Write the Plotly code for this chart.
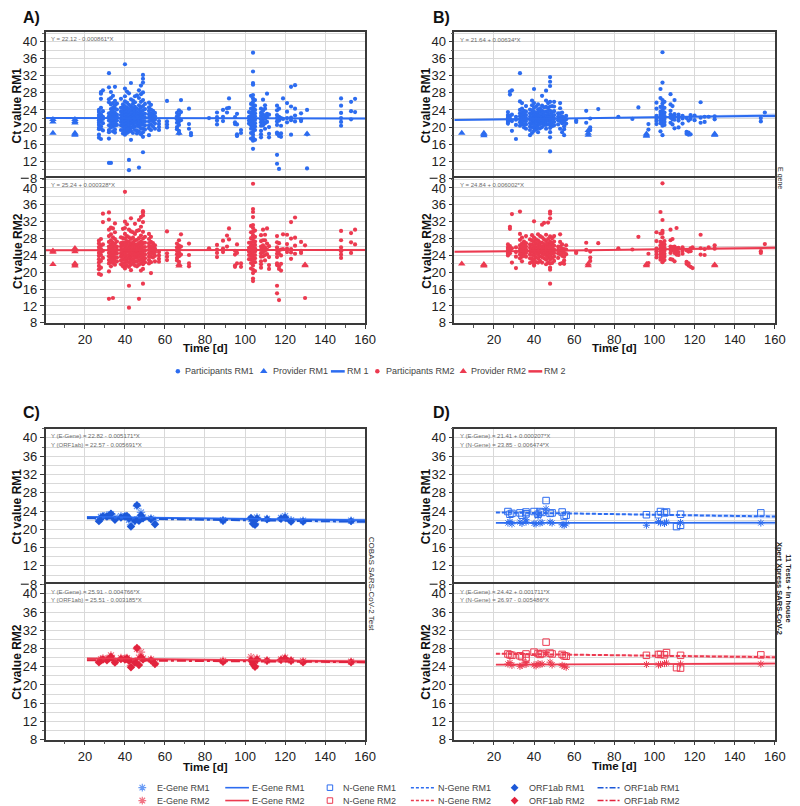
import numpy as np
import plotly.graph_objects as go

W, H = 800, 806
BLUE = "#2c6cf0"
BLUE_L = "#6a9cf6"
BLUE_D = "#1c58d8"
RED = "#ec3a50"
RED_L = "#f27585"
RED_D = "#e2233d"
FONT = "Liberation Sans, Arial, sans-serif"

# ------------------------------------------------------------------ data
# Panel A (E gene, all participants) : (day, [Ct values])
A_RM1_PART = [
    (27, [21.5, 22, 22.8, 23.5, 20.5, 19.8, 19.5, 24, 22.3, 21, 18.2, 17.5]),
    (28, [26.6, 27.8, 28.2, 23, 22, 21.4, 20.2, 19.6, 24.5, 22.6, 17.2]),
    (29, [28.6, 23.7, 22.4, 21.9, 20.9, 19.2]),
    (32, [32.6, 29.3, 26.5, 25.8, 23.2, 22.5, 21.5, 20.4, 19.3, 18.8, 17.3, 11.6]),
    (33, [28.2, 26.8, 25.3, 24.2, 23.4, 22.7, 22.1, 21.3, 20.6, 19.9, 11.6]),
    (34, [27.3, 25.6, 24.5, 23.7, 22.9, 22.2, 21.6, 20.8, 20.1, 19]),
    (35, [29.4, 26.1, 25.1, 24.3, 23.3, 22.6, 21.8, 21.1, 20.3, 19.4, 18.7]),
    (36, [25.5, 24.1, 22.9, 22.3, 21.5, 20.5]),
    (38, [26.6, 24.5, 23.6, 22.8, 22, 21.2, 20.4, 19.3]),
    (39, [25.3, 24.6, 23.8, 23.1, 22.4, 21.6, 20.9, 20.1, 19.3, 18.5]),
    (40, [34.7, 29, 27.2, 26, 24.9, 24.1, 23.4, 22.7, 22, 21.3, 20.6, 19.8, 19, 18.2]),
    (41, [28.3, 25.7, 24.5, 23.7, 23, 22.3, 21.6, 20.9, 20.2, 19.4, 18.6]),
    (42, [27.9, 25.2, 24.2, 23.3, 22.6, 21.9, 21.2, 20.5, 19.7, 18.9, 12.3, 9.9]),
    (43, [30.3, 26.5, 24.8, 23.9, 23, 22.3, 21.5, 20.8, 20, 19.1, 17]),
    (44, [26.2, 25.4, 24.4, 23.5, 22.8, 22.1, 21.4, 20.7, 19.9, 18.6]),
    (45, [27.2, 25.8, 24.7, 23.8, 23.1, 22.4, 21.7, 21, 20.2, 19.3]),
    (46, [27.4, 24.3, 23.4, 22.6, 21.8, 21.1, 20.3, 19.2, 18.5]),
    (47, [28.6, 26.8, 25.1, 24, 23.2, 22.5, 21.7, 20.9, 20.1, 18.9, 10.5]),
    (48, [29.7, 27.7, 25.9, 24.6, 23.6, 22.8, 22.1, 21.3, 20.5, 19.6, 18.3]),
    (49, [32.2, 31.3, 30.4, 28.1, 26.3, 24.9, 23.9, 23, 22.2, 21.4, 20.6, 19.7, 18.8, 17.7, 14.1]),
    (50, [25.4, 24.2, 23.1, 22.2, 21.3, 20.4, 19.4]),
    (52, [25.7, 24.6, 23.8, 23, 22.2, 21.3, 20.4, 19.7, 18.1]),
    (53, [25.2, 24.1, 23.2, 22.4, 21.6, 20.6, 19.3]),
    (54, [23.8, 22.9, 22.1, 21.3, 20.1]),
    (55, [23.3, 22.5, 21.7, 20.8, 19.6]),
    (57, [21.4, 20.7, 20, 19.3]),
    (61, [26.1, 21.3, 20.6, 19.9]),
    (66, [23.3, 22.5, 21.8, 21, 20, 19.5]),
    (67, [23.9, 22.9, 22.1, 21.3, 20.5, 19.1, 18.5]),
    (68, [26.3, 23.5, 21.6]),
    (72, [24.3, 20.7, 19.6]),
    (73, [18.6, 18.1]),
    (82, [22.1]),
    (86, [23.4, 22.3, 21.5, 20.6]),
    (89, [24, 22.4, 21.4]),
    (91, [24.4, 23.4]),
    (92, [26.7, 24.5]),
    (95, [22.3, 21.1, 20.7]),
    (96, [23.1, 20.6, 18.3, 18, 17.9]),
    (98, [19.3, 18.6]),
    (102, [23.5, 22.4, 21.5, 20.8]),
    (103, [27.3, 25.4, 24.3, 23.3, 22.6, 21.9, 21.2, 20.4, 19.6, 18.6, 17.3]),
    (104, [37.4, 33, 30.3, 29.9, 27.5, 26.7, 25.9, 25.2, 24.5, 23.8, 23.1, 22.4, 21.7, 21, 20.3, 19.6, 18.9, 18.2, 17.5, 16.8, 14.9]),
    (105, [26.3, 25, 24, 23.2, 22.5, 21.7, 20.9, 20.1, 19.3, 17]),
    (108, [24.3, 23.3, 22.6, 21.8, 21.1, 20.3, 19.1, 18.3, 17.6]),
    (109, [26.4, 23.8, 22.9, 22.1, 21.2, 20.4]),
    (110, [25.1, 24.3, 22.7, 21.9, 20.9, 19.6]),
    (111, [27.8, 23.1, 22.3, 21.2]),
    (112, [22.9, 20, 18.4, 17.6]),
    (116, [25, 23.9, 22.8, 22.1, 21.3, 20.5, 18.7, 18.4, 13.5, 11.4]),
    (117, [24.3, 22.4, 21.5, 18.3, 17.9, 10.2]),
    (118, [22.1, 20.3, 18.5, 17.7]),
    (119, [26.7, 21.9]),
    (121, [25.6, 23.6, 22.1, 21.1]),
    (123, [29.4, 24.8, 22.2, 21.6, 18.2]),
    (125, [29.8, 24.3, 22.7, 21.3]),
    (128, [23.2, 21.8, 21.4]),
    (131, [24, 18.3, 10.3]),
    (148, [26.7, 25, 23.3, 22.1, 21.2, 20.3]),
    (153, [25.9, 23.7, 21.8]),
    (155, [26.6, 23.5]),
]
A_RM1_PROV = [(4, [21.8, 21.2, 18.6]), (15, [21.8, 21.3, 21.0, 18.6, 18.3, 18.1]),
              (67, [18.6]), (131, [18.4])]

A_RM2_PART = [
    (27, [27.5, 26.8, 26, 25.3, 24.6, 23.9, 23.1, 22.3, 21.5, 20.7, 19.6]),
    (28, [27.9, 26.3, 25.5, 24.8, 24.1, 22.7, 21.1, 19.4]),
    (29, [33.9, 31.9, 26.6, 25.1, 23.4]),
    (32, [34.2, 32.5, 30.1, 28.6, 27.2, 26.1, 25.4, 24.6, 23.8, 22.9, 22.1, 20.2, 13.7]),
    (33, [30.6, 29, 27.6, 26.6, 25.8, 25, 24.2, 23.4, 22.5, 21.4]),
    (34, [30.4, 28.3, 27, 26.2, 25.5, 24.7, 23.9, 23.1, 22.2, 13.9]),
    (35, [31.6, 29.5, 27.9, 26.8, 26, 25.2, 24.4, 23.6, 22.7, 21.8]),
    (36, [27.3, 26.1, 25.3, 24.5, 23.5, 22.6]),
    (38, [28.3, 26.9, 26.1, 25.3, 24.5, 23.7, 22.8, 21.9]),
    (39, [30.3, 28.1, 27.1, 26.3, 25.5, 24.7, 23.9, 23.1, 22.2, 21.4]),
    (40, [39.1, 32, 30.5, 29.1, 28, 27, 26.2, 25.4, 24.6, 23.8, 23, 22.2, 21.4, 20.9]),
    (41, [31.4, 28.6, 27.4, 26.5, 25.7, 24.9, 24.1, 23.3, 22.5, 21.6]),
    (42, [30.1, 28.3, 27.2, 26.4, 25.6, 24.8, 24, 23.2, 22.3, 21.3, 16.8, 11.6]),
    (43, [32.8, 29.7, 27.9, 26.8, 26, 25.2, 24.4, 23.6, 22.7, 21.8, 20.5]),
    (44, [29.5, 28.2, 27.1, 26.3, 25.5, 24.7, 23.9, 23, 22.1]),
    (45, [31.5, 29.1, 27.6, 26.6, 25.8, 25, 24.2, 23.4, 22.5, 21.6]),
    (46, [29.8, 27.7, 26.6, 25.8, 25, 24.2, 23.4, 22.5, 21.4]),
    (47, [32.4, 30, 28.1, 26.9, 26.1, 25.3, 24.5, 23.7, 22.8, 21.8, 13.7]),
    (48, [33.1, 30.8, 28.7, 27.3, 26.4, 25.6, 24.8, 24, 23.1, 22.2, 20.4]),
    (49, [34.5, 34.2, 33.5, 31.9, 29.6, 28, 26.9, 26, 25.2, 24.4, 23.6, 22.7, 21.9, 20.8, 17.3]),
    (50, [28.4, 27, 26, 25.1, 24.2, 23.3, 22.4]),
    (52, [29.1, 27.9, 26.9, 26.1, 25.3, 24.5, 23.7, 22.9, 22.1]),
    (53, [28.4, 27.2, 26.2, 25.4, 24.6, 23.7, 22.4, 19.8]),
    (54, [26.9, 26, 25.2, 24.4, 23.5]),
    (55, [26.4, 25.6, 24.8, 23.9, 22.6]),
    (57, [24.8, 24, 23.2, 22.5]),
    (61, [29.7, 24.5, 23.7, 22.9]),
    (66, [26.8, 25.9, 25.1, 24.3, 23.4, 22.8]),
    (67, [27.6, 26.3, 25.5, 24.7, 23.8, 22.5]),
    (68, [29, 26.1, 24.2]),
    (72, [26.8, 24.1, 22.1, 21.4]),
    (82, [25.7]),
    (86, [26.5, 25.4, 24.6, 23.6]),
    (89, [27.5, 25.6, 24.8]),
    (91, [28.7, 26.1]),
    (92, [30.4, 27.8]),
    (95, [25.1, 24.2, 21.6, 21.3]),
    (96, [26.6, 24.6, 22.1]),
    (98, [22.1, 21.3]),
    (102, [27, 25.8, 24.9, 24.1, 23.1]),
    (103, [31, 29.5, 28.1, 27.1, 26.3, 25.5, 24.7, 23.9, 23.1, 22.2, 20.9]),
    (104, [41, 35, 34.3, 33.1, 31.2, 30.5, 29.6, 28.8, 28, 27.2, 26.4, 25.6, 24.8, 24, 23.2, 22.4, 21.6, 20.6, 19.8, 18.5, 17.9]),
    (105, [29.9, 28.4, 27.3, 26.5, 25.7, 24.9, 24.1, 23.3, 22.4, 20.3]),
    (108, [28.8, 27.4, 26.1, 25.3, 24.5, 23.7, 22.6, 21.9, 21.1]),
    (109, [30.1, 27.6, 26.4, 25.6, 24.8, 23.8]),
    (110, [28.9, 27.6, 25.9, 25.1, 24.1, 22.8]),
    (111, [30.4, 26.8, 25.4, 24.3]),
    (112, [26.2, 23.6, 21.7, 20.8]),
    (116, [28.6, 27.1, 25.9, 25.2, 24.4, 23.6, 22.1, 21.7, 16.8, 15]),
    (117, [26.9, 25.2, 24.4, 21.4, 20.8, 13.4]),
    (118, [25.4, 24, 22, 20.4]),
    (119, [29, 25.5]),
    (121, [28.9, 26.7, 25.6, 24.8]),
    (123, [31.9, 28, 25.5, 24.7, 23.2]),
    (125, [33, 28.2, 26.3, 24.4]),
    (128, [27.2, 25.1, 24.6]),
    (130, [26.4, 13.9]),
    (148, [29.8, 27.6, 25.9, 25, 24.2, 23.4]),
    (153, [29.3, 27.1, 24.6]),
    (155, [30.1, 26.6]),
]
A_RM2_PROV = [(4, [25.1, 24.8, 21.9]), (15, [25.7, 25.3, 24.9, 22.1, 21.8, 21.5]),
              (67, [21.5, 21.9]), (130, [21.6, 21.8])]

# Panel B (E gene, selected participants)
B_RM1_PART = [
    (27, [23.5, 22.8, 22.3, 21.9, 21.5, 21.2, 20.8]),
    (28, [27.6, 28.3, 22.6, 22, 21.6]),
    (29, [28.6, 22.9, 21.4, 19.1]),
    (31, [22.4, 21.7, 20.5, 17.2]),
    (33, [32.6, 26, 24, 23.2, 22.5, 21.8, 21.1, 20.3]),
    (34, [25.6, 24.3, 23.4, 22.7, 22, 21.3, 20.6]),
    (35, [23.8, 23, 22.2, 21.5, 20.7, 19.9]),
    (36, [24.9, 23.6, 22.8, 22.1, 21.4, 20.6, 19.6]),
    (38, [24.1, 23.2, 22.4, 21.7, 20.9, 20.1, 19.3, 18.1]),
    (39, [26.2, 25.1, 23.9, 23.1, 22.3, 21.6, 20.8, 20, 18.6]),
    (40, [28.9, 25.6, 24.5, 23.6, 22.8, 22.1, 21.4, 20.7, 19.9, 19.1]),
    (41, [24.8, 23.3, 22.6, 21.9, 21.2, 20.4, 19.5]),
    (42, [25.3, 24.1, 23.4, 22.7, 22, 21.3, 20.6, 19.8, 18.8]),
    (43, [24.4, 23.6, 22.8, 22.1, 21.4, 20.7, 19.7]),
    (44, [27.3, 25, 23.8, 23, 22.3, 21.6, 20.9, 20]),
    (45, [24.6, 23.5, 22.7, 22, 21.3, 20.5]),
    (46, [28.5, 26.2, 24.7, 23.6, 22.8, 22.1, 21.4, 20.5, 19.6]),
    (47, [25.6, 24.5, 23.7, 22.9, 22.2, 21.5, 20.7]),
    (48, [31.7, 30.6, 29.6, 25.9, 24.8, 23.8, 23, 22.2, 21.4, 20.6, 19.8, 18.8, 17.6, 14.3]),
    (49, [24.9, 23.5, 22.7, 21.9, 21.1, 20.2]),
    (50, [25.9, 24.8, 23.7, 22.8, 22, 21.2, 20.4]),
    (52, [23.2, 22.4, 21.6, 20.6]),
    (53, [25.6, 24.4, 23.2, 22.3, 21.4, 19.6]),
    (54, [23.4, 22.5, 21.7, 20.9, 18.8]),
    (55, [22.2, 21.4, 20.2, 19.5, 18.1]),
    (56, [22.6, 21.8, 20.8]),
    (61, [21.5, 21.2]),
    (66, [23.8, 21]),
    (68, [22, 19.9, 19.3]),
    (72, [24.2]),
    (82, [22.4]),
    (89, [21.9]),
    (92, [24.6]),
    (97, [20.7, 19.4]),
    (101, [25.7, 24.3, 22.6, 22, 21.4, 20.7]),
    (103, [28.9, 26.8, 24.7, 23.6, 22.9, 22.3, 21.6, 20.9, 19]),
    (104, [37.5, 30.4, 26.3, 25.5, 24.7, 23.9, 23.2, 22.5, 21.8, 21.1, 20.3, 18.1]),
    (105, [25.9, 24.5, 23.4, 22.6, 21.9, 21.2, 20.5]),
    (108, [27.7, 25.3, 23.8, 22.9, 22.2, 21]),
    (109, [24.9, 22.7, 21.8, 20.6]),
    (110, [26.3, 23, 22.5, 21.7, 19.7]),
    (112, [22.9, 22.2, 21.5, 19.9]),
    (114, [22.6, 22, 20.8]),
    (116, [22.1, 18.9, 18.4]),
    (117, [21.5, 18.7, 18.2]),
    (118, [22.8, 21.9, 18.3]),
    (120, [22.7, 21.6]),
    (123, [25.8, 22.2, 21]),
    (125, [22.4, 21.2]),
    (127, [22.4]),
    (130, [22.5, 21.8]),
    (153, [22.1, 21.3]),
    (155, [23.4]),
]
B_RM1_PROV = [(4, [18.6]), (15, [18.6, 18.3, 18.0]), (67, [18.1, 18.6, 19.2]),
              (96, [18.4, 18.1, 17.9]), (130, [18.4, 18.2, 18.1])]

B_RM2_PART = [
    (27, [26.6, 25.9, 25.5, 25.1, 24.8, 24.4, 24]),
    (28, [30.8, 30.3, 26.2, 25.2, 24.5]),
    (29, [33.8, 25.7, 22.3]),
    (31, [25.9, 24.8, 23.7, 21]),
    (33, [34.4, 29.1, 27.7, 26.4, 25.6, 24.9, 24.2, 23.3]),
    (34, [28.2, 26.8, 25.9, 25.2, 24.5, 23.7, 22.6]),
    (35, [27.3, 26.3, 25.5, 24.7, 23.9]),
    (36, [28.6, 26.9, 26.1, 25.4, 24.6, 23.7]),
    (38, [27.8, 26.6, 25.8, 25, 24.2, 23.3, 22.2]),
    (39, [28.8, 27.5, 26.5, 25.7, 24.9, 24.1, 23.2, 22.5]),
    (40, [32.1, 28.2, 27.2, 26.3, 25.5, 24.7, 23.9, 23, 22.1, 21.6]),
    (41, [27.8, 26.9, 26, 25.2, 24.4, 23.5, 22.4]),
    (42, [29, 27.5, 26.6, 25.8, 25, 24.2, 23.3, 22.3]),
    (43, [28.6, 27.1, 26.3, 25.5, 24.7, 23.8, 22.7]),
    (44, [31.3, 28.3, 27, 26.1, 25.3, 24.5, 23.6, 22.3]),
    (45, [31.7, 27.8, 26.7, 25.9, 25.1, 24.3, 23.3]),
    (46, [28.9, 27.4, 26.4, 25.6, 24.8, 24, 23, 21.9]),
    (47, [31.8, 27.9, 26.8, 26, 25.2, 24.4, 23.5, 22.3]),
    (48, [34.4, 33.9, 32.8, 28.5, 27.3, 26.3, 25.5, 24.7, 23.9, 23, 22.1, 21.1, 20.6, 17.3]),
    (49, [28.1, 26.9, 26, 25.2, 24.4, 23.4, 22.2]),
    (50, [28.6, 27.3, 26.3, 25.4, 24.6, 23.7, 22.7]),
    (52, [26.1, 25.3, 24.5, 23.4]),
    (53, [29, 27.2, 26.1, 25.2, 24.3, 22]),
    (54, [26.6, 25.6, 24.8, 23.9, 22.2]),
    (55, [25.5, 24.6, 23.7, 22.8, 22]),
    (56, [26.4, 25.4, 24.3]),
    (61, [24.6, 24.8]),
    (66, [27, 25.3]),
    (68, [24.9, 23.5, 22.7]),
    (72, [26.9]),
    (82, [25.7]),
    (89, [25.4]),
    (92, [28.4]),
    (97, [24.4, 22.2]),
    (101, [29.5, 27.4, 25.6, 24.9, 24.2, 23.5]),
    (103, [34.3, 29.2, 27.2, 26.4, 25.7, 25, 24.3, 23.6, 23]),
    (104, [41.1, 32.4, 29.8, 29.3, 28.3, 26.9, 26.1, 25.4, 24.7, 24, 23.3, 22.4]),
    (105, [27.4, 26.6, 25.8, 25.1, 24.4, 23.7, 22.9]),
    (108, [30.1, 27.6, 26.1, 25.4, 24.6, 23.1]),
    (109, [27.9, 26, 25.2, 23]),
    (110, [26.1, 25.3, 24.6, 22.6]),
    (111, [30.5, 25.7, 25, 24.2]),
    (112, [25.8, 24.8, 24.1]),
    (114, [25.9, 25.1, 24.4]),
    (116, [25.2, 22.5, 22]),
    (117, [24.9, 22.1, 21.6]),
    (118, [25.7, 25, 21.3]),
    (119, [25.9, 21]),
    (123, [28.9, 25.7, 24.2]),
    (125, [25.5, 24.1]),
    (127, [25.9]),
    (130, [26.4, 25.6]),
    (153, [25, 24.6]),
    (155, [26.7]),
]
B_RM2_PROV = [(4, [22.0]), (15, [21.9, 21.7, 21.5]), (67, [21.6, 22.0]),
              (96, [21.6, 21.9]), (130, [21.8, 21.6])]

# Panel C (COBAS): E-Gene and ORF1ab
C_X = [27, 28, 29, 31, 33, 35, 38, 40, 41, 42, 43, 45, 46, 47, 48, 49, 53, 55,
       89, 103, 104, 105, 106, 111, 118, 120, 123, 129, 153]
C_E_RM1 = [22.2, 22.7, 22.9, 23.1, 23.3, 22.6, 22.9, 22.9, 22.7, 22.1, 21.0, 22.0, 25.1, 22.3,
           23.7, 22.6, 22.4, 21.9, 22.0, 22.3, 21.7, 21.3, 22.6, 22.3, 22.5, 22.9, 22.0, 21.9, 21.9]
C_O_RM1 = [21.8, 22.5, 22.8, 22.8, 23.4, 22.1, 22.6, 22.8, 22.9, 22.4, 20.6, 21.9, 25.3, 21.9,
           23.1, 22.4, 22.2, 21.1, 21.9, 22.5, 21.2, 21.0, 22.4, 22.2, 22.3, 22.6, 21.7, 21.7, 21.8]
C_E_RM2 = [25.3, 25.6, 25.8, 25.7, 26.5, 25.2, 25.9, 25.8, 25.9, 25.5, 24.3, 25.1, 27.9, 26.0,
           27.2, 25.8, 25.6, 24.8, 25.3, 26.1, 25.0, 24.2, 25.8, 25.4, 25.6, 26.0, 25.4, 25.2, 25.1]
C_O_RM2 = [25.0, 25.4, 25.6, 25.4, 26.2, 24.9, 25.7, 25.6, 25.8, 25.3, 23.9, 24.9, 28.1, 24.4,
           26.1, 25.6, 25.4, 24.6, 25.1, 25.4, 24.6, 24.0, 25.6, 25.3, 25.5, 25.8, 25.3, 25.0, 25.0]

# Panel D (11 tests + in house / Xpert Xpress): E-Gene and N-Gene
D_N_X = [27, 28, 29, 33, 34, 36, 36, 40, 42, 43, 44, 46, 48, 49, 54, 55, 56, 96, 102, 103,
         105, 106, 111, 113, 113, 153]
D_N_RM1 = [23.9, 23.3, 23.5, 23.6, 23.1, 23.8, 23.4, 23.9, 23.3, 23.9, 23.7, 26.3, 23.5, 23.6,
           23.8, 22.9, 23.1, 23.2, 23.2, 23.9, 23.6, 23.8, 20.6, 23.3, 20.9, 23.6]
D_N_RM2 = [26.8, 26.6, 26.5, 26.4, 26.2, 26.8, 25.9, 27.2, 26.9, 26.7, 26.9, 29.4, 27.0, 26.8,
           26.7, 26.4, 26.3, 26.5, 26.7, 26.7, 26.6, 27.1, 23.8, 26.5, 23.7, 26.6]
D_E_X = [27, 28, 29, 33, 34, 36, 36, 40, 41, 42, 43, 44, 46, 48, 49, 54, 55, 56, 96, 102, 103,
         105, 106, 113, 153]
D_E_RM1 = [21.4, 21.7, 21.2, 21.6, 21.3, 22.1, 21.6, 21.3, 21.2, 22.9, 21.4, 21.5, 24.5, 21.6,
           21.4, 21.0, 20.9, 21.2, 20.9, 21.7, 21.4, 21.3, 21.6, 21.5, 21.4]
D_E_RM2 = [24.6, 24.9, 24.3, 24.1, 24.3, 24.9, 24.5, 24.4, 24.2, 24.7, 24.5, 24.6, 27.1, 25.0,
           24.4, 24.3, 24.1, 23.9, 24.5, 24.4, 24.5, 24.7, 24.8, 24.6, 24.6]

# regression coefficients (intercept, slope) as printed in the panels
REG = {
    "A1": (22.12, -0.000861), "A2": (25.24, 0.000328),
    "B1": (21.64, 0.00634), "B2": (24.84, 0.006002),
    "C1E": (22.82, -0.005171), "C1O": (22.57, -0.005691),
    "C2E": (25.91, -0.004766), "C2O": (25.51, -0.003185),
    "D1E": (21.41, 0.000207), "D1N": (23.85, -0.006474),
    "D2E": (24.42, 0.001711), "D2N": (26.97, -0.005486),
}
X_RANGE = [0.3, 160.2]

# ------------------------------------------------------------------ layout geometry (pixels)
SUBS = {  # key: (axis index, x pixel span, y pixel span, y range)
    "A1": (1, (38, 362), (24, 172), (8, 42.3)),
    "A2": (2, (38, 362), (172, 318), (8, 42.3)),
    "B1": (3, (452, 777), (24, 172), (8, 42.3)),
    "B2": (4, (452, 777), (172, 318), (8, 42.3)),
    "C1": (5, (38, 362), (425, 582), (8, 42.0)),
    "C2": (6, (38, 362), (582, 739), (8, 42.1)),
    "D1": (7, (452, 777), (425, 582), (8, 42.0)),
    "D2": (8, (452, 777), (582, 739), (8, 42.1)),
}


def px(x):
    return x / W


def py(y):
    return 1 - y / H


def expand(cols):
    xs, ys = [], []
    for d, vals in cols:
        xs += [d] * len(vals)
        ys += list(vals)
    return xs, ys


def refs(key):
    i = SUBS[key][0]
    s = "" if i == 1 else str(i)
    return "x" + s, "y" + s


fig = go.Figure()


def add_points(key, xs, ys, symbol, color, size, lw=0, opacity=1.0):
    xa, ya = refs(key)
    fig.add_trace(go.Scatter(
        x=xs, y=ys, mode="markers", xaxis=xa, yaxis=ya, showlegend=False,
        hoverinfo="skip", opacity=opacity,
        marker=dict(symbol=symbol, color=color, size=size,
                    line=dict(width=lw, color=color))))


def add_reg(key, coef, x0, x1, hw_min, hw_end, color, fill, dash="solid", width=2):
    xa, ya = refs(key)
    a, b = coef
    xs = np.linspace(x0, x1, 80)
    yl = a + b * xs
    xc = 55.0
    rel = ((xs - xc) / (x1 - xc)) ** 2
    hw = hw_min + (hw_end - hw_min) * rel
    fig.add_trace(go.Scatter(x=xs, y=yl - hw, mode="lines", line=dict(width=0, color=fill),
                             xaxis=xa, yaxis=ya, showlegend=False, hoverinfo="skip"))
    fig.add_trace(go.Scatter(x=xs, y=yl + hw, mode="lines", line=dict(width=0, color=fill),
                             fill="tonexty", fillcolor=fill,
                             xaxis=xa, yaxis=ya, showlegend=False, hoverinfo="skip"))
    fig.add_trace(go.Scatter(x=xs, y=yl, mode="lines", line=dict(width=width, color=color, dash=dash),
                             xaxis=xa, yaxis=ya, showlegend=False, hoverinfo="skip"))


BFILL = "rgba(60,120,240,0.22)"
RFILL = "rgba(236,58,80,0.22)"

# Panel A
x, y = expand(A_RM1_PART); add_points("A1", x, y, "circle", BLUE, 4.2)
x, y = expand(A_RM1_PROV); add_points("A1", x, y, "triangle-up", BLUE, 6.5)
add_reg("A1", REG["A1"], X_RANGE[0], X_RANGE[1], 0.12, 0.3, BLUE, BFILL)
x, y = expand(A_RM2_PART); add_points("A2", x, y, "circle", RED, 4.2)
x, y = expand(A_RM2_PROV); add_points("A2", x, y, "triangle-up", RED, 6.5)
add_reg("A2", REG["A2"], X_RANGE[0], X_RANGE[1], 0.12, 0.3, RED, RFILL)

# Panel B
x, y = expand(B_RM1_PART); add_points("B1", x, y, "circle", BLUE, 4.2)
x, y = expand(B_RM1_PROV); add_points("B1", x, y, "triangle-up", BLUE, 6.5)
add_reg("B1", REG["B1"], X_RANGE[0], X_RANGE[1], 0.15, 0.55, BLUE, BFILL)
x, y = expand(B_RM2_PART); add_points("B2", x, y, "circle", RED, 4.2)
x, y = expand(B_RM2_PROV); add_points("B2", x, y, "triangle-up", RED, 6.5)
add_reg("B2", REG["B2"], X_RANGE[0], X_RANGE[1], 0.15, 0.55, RED, RFILL)

# Panel C
add_points("C1", C_X, C_E_RM1, "asterisk-open", BLUE_L, 7, lw=1.2)
add_points("C1", C_X, C_O_RM1, "diamond", BLUE_D, 6.5)
add_reg("C1", REG["C1E"], 21, X_RANGE[1], 0.1, 0.45, BLUE, BFILL, "solid", 2)
add_reg("C1", REG["C1O"], 21, X_RANGE[1], 0.1, 0.45, BLUE_D, BFILL, "dashdot", 2)
add_points("C2", C_X, C_E_RM2, "asterisk-open", RED_L, 7, lw=1.2)
add_points("C2", C_X, C_O_RM2, "diamond", RED_D, 6.5)
add_reg("C2", REG["C2E"], 21, X_RANGE[1], 0.1, 0.45, RED, RFILL, "solid", 2)
add_reg("C2", REG["C2O"], 21, X_RANGE[1], 0.1, 0.45, RED_D, RFILL, "dashdot", 2)

# Panel D
add_points("D1", D_E_X, D_E_RM1, "asterisk-open", BLUE, 6, lw=1)
add_points("D1", D_N_X, D_N_RM1, "square-open", BLUE, 6.5, lw=1)
add_reg("D1", REG["D1E"], 21, X_RANGE[1], 0.12, 0.45, BLUE, BFILL, "solid", 1.6)
add_reg("D1", REG["D1N"], 21, X_RANGE[1], 0.12, 0.5, BLUE, BFILL, "4px,2px", 2)
add_points("D2", D_E_X, D_E_RM2, "asterisk-open", RED, 6, lw=1)
add_points("D2", D_N_X, D_N_RM2, "square-open", RED, 6.5, lw=1)
add_reg("D2", REG["D2E"], 21, X_RANGE[1], 0.12, 0.45, RED, RFILL, "solid", 1.6)
add_reg("D2", REG["D2N"], 21, X_RANGE[1], 0.12, 0.5, RED, RFILL, "4px,2px", 2)

# ------------------------------------------------------------------ axes
layout = {}
for key, (i, xsp, ysp, yr) in SUBS.items():
    s = "" if i == 1 else str(i)
    bottom = key.endswith("2")
    xa = dict(
        domain=[px(xsp[0]), px(xsp[1])], range=list(X_RANGE), anchor="y" + s,
        tickmode="linear", tick0=0, dtick=20, showticklabels=bottom,
        showgrid=True, gridcolor="#d9d9d9", gridwidth=1, zeroline=False,
        showline=True, linecolor="#3a3a3a", linewidth=1.5,
        ticks="outside" if bottom else "", ticklen=4, tickcolor="#3a3a3a",
        minor=dict(dtick=10, tick0=0, ticks="outside" if bottom else "", ticklen=3,
                   tickcolor="#555", showgrid=False),
        tickfont=dict(family=FONT, size=13, color="#222"), fixedrange=True)
    if bottom:
        xa.update(mirror=True, side="bottom")      # draws separator (top) and bottom frame
    else:
        xa.update(mirror=False, side="top")        # top frame only
    layout["xaxis" + s] = xa
    layout["yaxis" + s] = dict(
        domain=[py(ysp[1]), py(ysp[0])], range=list(yr), anchor="x" + s,
        tickmode="linear", tick0=8, dtick=4,
        showgrid=True, gridcolor="#d9d9d9", gridwidth=1, zeroline=False,
        showline=True, mirror=True, linecolor="#3a3a3a", linewidth=1.5,
        ticks="outside", ticklen=4, tickcolor="#3a3a3a",
        minor=dict(dtick=2, tick0=8, ticks="outside", ticklen=2, tickcolor="#666",
                   showgrid=True, gridcolor="#d9d9d9", gridwidth=1),
        tickfont=dict(family=FONT, size=13, color="#222"), fixedrange=True)

# overlay axis in pixel coordinates for legend symbols (transparent background)
layout["xaxis9"] = dict(domain=[0, 1], range=[0, W], visible=False, anchor="y9", fixedrange=True)
layout["yaxis9"] = dict(domain=[0, 1], range=[H, 0], visible=False, anchor="x9", fixedrange=True)

ann = []
shapes = []


def text(x, y, t, size=9, color="#333", xanchor="left", bold=False, angle=0, yanchor="middle",
         align="left"):
    ann.append(dict(x=px(x), y=py(y), xref="paper", yref="paper", text=("<b>%s</b>" % t) if bold else t,
                    showarrow=False, xanchor=xanchor, yanchor=yanchor, textangle=angle, align=align,
                    font=dict(family=FONT, size=size, color=color)))


# panel letters
for lab, (x0, y0) in {"A)": (13, 10), "B)": (428, 10), "C)": (13, 409), "D)": (428, 409)}.items():
    text(x0, y0, lab, size=16, color="#111", bold=True)

# axis titles
for xc, yc, t in [(9.5, 98, "Ct value RM1"), (9.5, 245, "Ct value RM2"),
                  (423.5, 98, "Ct value RM1"), (423.5, 245, "Ct value RM2"),
                  (9.5, 503, "Ct value RM1"), (9.5, 660, "Ct value RM2"),
                  (423.5, 503, "Ct value RM1"), (423.5, 660, "Ct value RM2")]:
    text(xc, yc, t, size=12, color="#111", xanchor="center", bold=True, angle=-90)
for xc, yc in [(200, 343), (614, 343), (200, 767), (614, 766)]:
    text(xc, yc, "Time [d]", size=11.5, color="#111", xanchor="center", bold=True)


def eq(a, b):
    return "%.2f %s %s*X" % (a, "-" if b < 0 else "+", ("%.6f" % abs(b)).rstrip("0"))


EQC = "#6a6a6a"
text(42, 31, "Y = " + eq(*REG["A1"]), 6, EQC)
text(42, 179, "Y = " + eq(*REG["A2"]), 6, EQC)
text(456, 32, "Y = " + eq(*REG["B1"]), 6, EQC)
text(456, 179, "Y = " + eq(*REG["B2"]), 6, EQC)
text(42, 432, "Y (E-Gene) = " + eq(*REG["C1E"]), 6, EQC)
text(42, 441, "Y (ORF1ab) = " + eq(*REG["C1O"]), 6, EQC)
text(42, 590, "Y (E-Gene) = " + eq(*REG["C2E"]), 6, EQC)
text(42, 598, "Y (ORF1ab) = " + eq(*REG["C2O"]), 6, EQC)
text(456, 432, "Y (E-Gene) = " + eq(*REG["D1E"]), 6, EQC)
text(456, 441, "Y (N-Gene) = " + eq(*REG["D1N"]), 6, EQC)
text(456, 590, "Y (E-Gene) = " + eq(*REG["D2E"]), 6, EQC)
text(456, 598, "Y (N-Gene) = " + eq(*REG["D2N"]), 6, EQC)

# side labels
text(781, 172, "E gene", 7, "#333", xanchor="center", angle=90)
text(368, 582, "COBAS SARS-CoV-2 Test", 8, "#333", xanchor="center", angle=90)
text(786, 586, "11 Tests + In house<br>Xpert Xpress SARS-CoV-2", 7.5, "#222", xanchor="center",
     bold=True, angle=90, align="center")

# little separator dashes left of the "8" at subplot junctions
for x0, yy in [(13, 172), (427, 172), (13, 582), (427, 582)]:
    shapes.append(dict(type="line", xref="paper", yref="paper", x0=px(x0), x1=px(x0 + 8),
                       y0=py(yy), y1=py(yy), line=dict(color="#333", width=1.2)))

# ------------------------------------------------------------------ legends (drawn manually)
LEGC = "#444"


def leg_marker(x, y, symbol, color, size, lw=0):
    fig.add_trace(go.Scatter(x=[x], y=[y], mode="markers", xaxis="x9", yaxis="y9", showlegend=False,
                             hoverinfo="skip",
                             marker=dict(symbol=symbol, color=color, size=size,
                                         line=dict(width=lw, color=color))))


def leg_line(x0, x1, y, color, dash="solid", width=2.2):
    shapes.append(dict(type="line", xref="paper", yref="paper", x0=px(x0), x1=px(x1), y0=py(y),
                       y1=py(y), line=dict(color=color, width=width, dash=dash)))


LY = 367
leg_marker(172, LY, "circle", BLUE, 4.5); text(177, LY, "Participants RM1", 9, LEGC)
leg_marker(259, LY, "triangle-up", BLUE, 6.5); text(266, LY, "Provider RM1", 9, LEGC)
leg_line(327, 341, LY, BLUE, width=2.5); text(341, LY, "RM 1", 9, LEGC)
leg_marker(374, LY, "circle", RED, 4.5); text(381, LY, "Participants RM2", 9, LEGC)
leg_marker(461, LY, "triangle-up", RED, 6.5); text(467, LY, "Provider RM2", 9, LEGC)
leg_line(527, 541, LY, RED, width=2.5); text(541, LY, "RM 2", 9, LEGC)

for yy, c, cl, cd, tag in [(787.5, BLUE, BLUE_L, BLUE_D, "RM1"), (800.5, RED, RED_L, RED_D, "RM2")]:
    leg_marker(136, yy, "asterisk-open", cl, 6.5, lw=1.2); text(149, yy, "E-Gene " + tag, 9, LEGC)
    leg_line(220, 244, yy, c, width=1.6); text(245, yy, "E-Gene " + tag, 9, LEGC)
    leg_marker(326, yy, "square-open", c, 5.5, lw=1); text(337, yy, "N-Gene " + tag, 9, LEGC)
    leg_line(408, 432, yy, c, dash="3px,2px", width=1.4); text(433, yy, "N-Gene " + tag, 9, LEGC)
    leg_marker(513, yy, "diamond", cd, 6); text(526, yy, "ORF1ab " + tag, 9, LEGC)
    leg_line(597, 621, yy, cd, dash="6px,2px,2px,2px", width=1.6); text(622, yy, "ORF1ab " + tag, 9, LEGC)

fig.update_layout(
    width=W, height=H, margin=dict(l=0, r=0, t=0, b=0),
    paper_bgcolor="white", plot_bgcolor="rgba(0,0,0,0)", showlegend=False,
    annotations=ann, shapes=shapes, font=dict(family=FONT), **layout)

fig.write_html("out.html")
